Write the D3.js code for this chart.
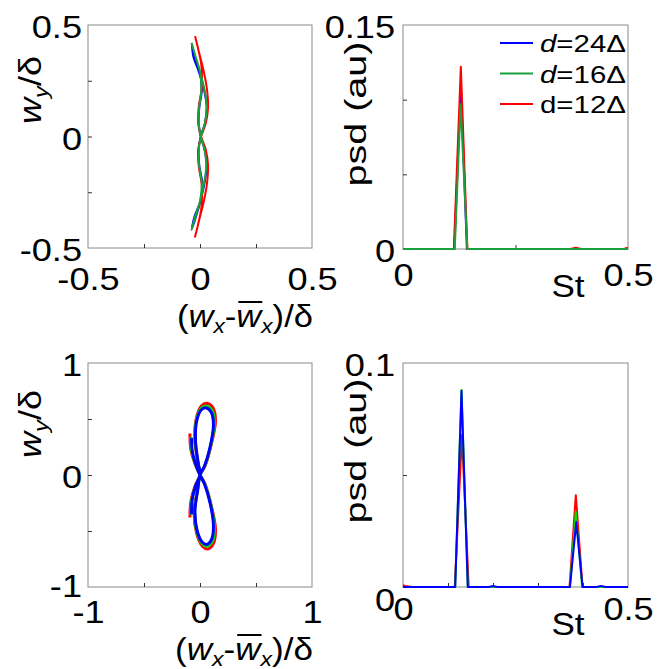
<!DOCTYPE html>
<html>
<head>
<meta charset="utf-8">
<script src="https://cdn.jsdelivr.net/npm/d3@7"></script>
<style>
  body { margin: 0; background: #fff; }
  svg { font-family: "Liberation Sans", Arial, sans-serif; }
</style>
</head>
<body>
<div id="chart"></div>
<script>
// figure: wake orbits (left) and spectra (right), three grid spacings

const width = 659;
const height = 669;

const seriesNames = ["24Δ", "16Δ", "12Δ"];

// top-left orbit, (wx - mean)/delta vs wy/delta
const tlBlueX = [-0.036, -0.03, -0.005, 0.018, 0.03, 0.022, 0.003, -0.006, -0.003, 0.01, 0.002, -0.025, -0.036, -0.018, 0.002, 0.02, 0.03, 0.021, 0.003, -0.006, -0.003, 0.008, -0.002, -0.028, -0.036];
const tlBlueY = [0.415, 0.36, 0.29, 0.21, 0.13, 0.06, 0.0, -0.06, -0.13, -0.21, -0.29, -0.36, -0.415, -0.36, -0.29, -0.21, -0.13, -0.06, 0.0, 0.06, 0.13, 0.21, 0.29, 0.36, 0.415];
const tlGreenX = [-0.038, -0.02, 0.0, 0.02, 0.03, 0.022, 0.004, -0.006, -0.004, 0.008, 0.0, -0.02, -0.038, -0.022, 0.0, 0.018, 0.028, 0.02, 0.004, -0.006, -0.004, 0.006, 0.0, -0.02, -0.038];
const tlGreenY = [0.42, 0.36, 0.29, 0.21, 0.13, 0.06, 0.0, -0.06, -0.13, -0.21, -0.29, -0.36, -0.42, -0.36, -0.29, -0.21, -0.13, -0.06, 0.0, 0.06, 0.13, 0.21, 0.29, 0.36, 0.42];
const tlRedX = [-0.022, -0.005, 0.015, 0.03, 0.036, 0.026, 0.005, -0.008, -0.006, 0.008, 0.006, -0.01, -0.022, -0.005, 0.015, 0.03, 0.036, 0.026, 0.005, -0.008, -0.006, 0.008, 0.006, -0.01, -0.022];
const tlRedY = [0.45, 0.38, 0.30, 0.22, 0.13, 0.06, 0.0, -0.06, -0.13, -0.22, -0.32, -0.40, -0.45, -0.38, -0.30, -0.22, -0.13, -0.06, 0.0, 0.06, 0.13, 0.22, 0.32, 0.40, 0.45];

// bottom-left orbit (figure eight)
const blBlueX = [-0.075, -0.07, -0.04, 0, 0.04, 0.09, 0.12, 0.105, 0.06, 0.02, -0.025, -0.045, -0.02, 0, 0.04, 0.09, 0.12, 0.1, 0.05, 0.01, -0.03, -0.04, -0.015, 0, -0.04, -0.07, -0.075];
const blBlueY = [0.33, 0.22, 0.1, 0, -0.08, -0.25, -0.45, -0.57, -0.62, -0.6, -0.5, -0.32, -0.13, 0, 0.08, 0.25, 0.45, 0.56, 0.6, 0.58, 0.48, 0.3, 0.1, 0, -0.1, -0.22, -0.35];
const blGreenX = [-0.08, -0.075, -0.042, 0, 0.042, 0.095, 0.128, 0.112, 0.064, 0.02, -0.028, -0.048, -0.021, 0, 0.042, 0.095, 0.128, 0.108, 0.055, 0.01, -0.032, -0.043, -0.016, 0, -0.042, -0.075, -0.08];
const blGreenY = [0.34, 0.22, 0.1, 0, -0.08, -0.26, -0.46, -0.59, -0.635, -0.615, -0.51, -0.33, -0.13, 0, 0.08, 0.26, 0.46, 0.575, 0.615, 0.595, 0.49, 0.31, 0.1, 0, -0.1, -0.23, -0.36];
const blRedX = [-0.09, -0.082, -0.045, 0, 0.045, 0.1, 0.138, 0.12, 0.07, 0.022, -0.03, -0.052, -0.022, 0, 0.045, 0.1, 0.138, 0.116, 0.06, 0.012, -0.034, -0.046, -0.017, 0, -0.045, -0.082, -0.09];
const blRedY = [0.37, 0.23, 0.1, 0, -0.08, -0.27, -0.48, -0.61, -0.66, -0.635, -0.52, -0.33, -0.13, 0, 0.08, 0.27, 0.48, 0.6, 0.64, 0.615, 0.5, 0.32, 0.1, 0, -0.1, -0.24, -0.38];

// top-right spectra
const trBlueSt = [0, 0.114, 0.1285, 0.142, 0.5];
const trBluePsd = [0, 0, 0.11, 0, 0];
const trGreenSt = [0, 0.115, 0.128, 0.143, 0.5];
const trGreenPsd = [0, 0, 0.097, 0, 0];
const trRedSt = [0, 0.113, 0.1285, 0.143, 0.372, 0.384, 0.396, 0.49, 0.5];
const trRedPsd = [0, 0, 0.122, 0, 0, 0.0008, 0, 0, 0.0008];

// bottom-right spectra
const brBlueSt = [0, 0.1, 0.116, 0.130, 0.144, 0.19, 0.2, 0.21, 0.358, 0.371, 0.385, 0.399, 0.43, 0.44, 0.45, 0.5];
const brBluePsd = [0, 0, 0, 0.0876, 0, 0, 0.0004, 0, 0, 0, 0.029, 0, 0, 0.0005, 0, 0];
const brGreenSt = [0, 0.116, 0.130, 0.144, 0.371, 0.384, 0.398, 0.5];
const brGreenPsd = [0, 0, 0.088, 0, 0, 0.0336, 0, 0];
const brRedSt = [0, 0.005, 0.02, 0.115, 0.131, 0.146, 0.37, 0.384, 0.399, 0.5];
const brRedPsd = [0.0008, 0.0005, 0, 0, 0.068, 0, 0, 0.041, 0, 0];

const blue = "#0000ff";
const green = "#1aa03c";
const green2 = "#00dd00";
const red = "#ff0000";
const font = "'Liberation Sans', Arial, sans-serif";
const stretch = 1.13; // the original lettering runs a bit wider than Arial

const svg = d3.select("#chart")
  .append("svg")
  .attr("width", width)
  .attr("height", height);

const zip = (a, b) => a.map((v, i) => [v, b[i]]);

function widen(sel) {
  sel.each(function () {
    const len = this.getComputedTextLength();
    d3.select(this).attr("textLength", len * stretch).attr("lengthAdjust", "spacingAndGlyphs");
  });
}

function panel(box, xDom, yDom) {
  const x = d3.scaleLinear().domain(xDom).range([box.left, box.right]);
  const y = d3.scaleLinear().domain(yDom).range([box.bottom, box.top]);
  return { box, x, y };
}

function frame(p, opt) {
  const b = p.box;
  svg.append("rect")
    .attr("x", b.left).attr("y", b.top)
    .attr("width", b.right - b.left).attr("height", b.bottom - b.top)
    .attr("fill", "none").attr("stroke", "#8a8a8a").attr("stroke-width", 1);

  // inner ticks
  svg.append("g")
    .attr("transform", `translate(0,${b.bottom})`)
    .call(d3.axisBottom(p.x).tickValues(opt.xMinor).tickSize(-4).tickFormat(""))
    .call(g => g.select(".domain").remove())
    .selectAll("line").attr("stroke", "#333");
  svg.append("g")
    .attr("transform", `translate(${b.left},0)`)
    .call(d3.axisLeft(p.y).tickValues(opt.yMinor).tickSize(-4).tickFormat(""))
    .call(g => g.select(".domain").remove())
    .selectAll("line").attr("stroke", "#333");

  // tick labels
  const fmt = d => String(d);
  const gx = svg.append("g")
    .attr("transform", `translate(0,${b.bottom})`)
    .call(d3.axisBottom(p.x).tickValues(opt.xLabels).tickSize(0).tickPadding(opt.xPad).tickFormat(fmt))
    .attr("font-size", 32).attr("font-family", font);
  gx.select(".domain").remove();
  widen(gx.selectAll("text"));
  const gy = svg.append("g")
    .attr("transform", `translate(${b.left},0)`)
    .call(d3.axisLeft(p.y).tickValues(opt.yLabels).tickSize(0).tickPadding(opt.yPad).tickFormat(fmt))
    .attr("font-size", 32).attr("font-family", font);
  gy.select(".domain").remove();
  gy.selectAll("text").attr("dy", "0.4em");
  widen(gy.selectAll("text"));
  return gy;
}

function trace(p, xs, ys, color, w, curve) {
  svg.append("path")
    .datum(zip(xs, ys))
    .attr("fill", "none")
    .attr("stroke", color)
    .attr("stroke-width", w)
    .attr("stroke-linejoin", "round")
    .attr("d", d3.line().x(d => p.x(d[0])).y(d => p.y(d[1])).curve(curve));
}

// ---------- orbit panels ----------
const tl = panel({ left: 88, right: 312, top: 25, bottom: 248 }, [-0.5, 0.5], [-0.5, 0.5]);
frame(tl, { xMinor: [-0.25, 0, 0.25], yMinor: [-0.25, 0, 0.25], xLabels: [-0.5, 0, 0.5], yLabels: [-0.5, 0, 0.5], xPad: 19, yPad: 6 });
trace(tl, tlBlueX, tlBlueY, blue, 2, d3.curveCatmullRom);
trace(tl, tlRedX, tlRedY, red, 2, d3.curveCatmullRom);
trace(tl, tlGreenX, tlGreenY, green, 2, d3.curveCatmullRom);

const bl = panel({ left: 88, right: 312, top: 363, bottom: 587 }, [-1, 1], [-1, 1]);
const blY = frame(bl, { xMinor: [-0.5, 0, 0.5], yMinor: [-0.5, 0, 0.5], xLabels: [-1, 0, 1], yLabels: [-1, 0, 1], xPad: 13, yPad: 6 });
blY.selectAll("text").filter(d => d === -1).attr("dy", "0.3em");
trace(bl, blRedX, blRedY, red, 3, d3.curveCatmullRom);
trace(bl, blGreenX, blGreenY, green2, 3, d3.curveCatmullRom);
trace(bl, blBlueX, blBlueY, blue, 3, d3.curveCatmullRom);

// ---------- spectra panels ----------
const tr = panel({ left: 403, right: 628, top: 25, bottom: 249 }, [0, 0.5], [0, 0.15]);
frame(tr, { xMinor: [0.25], yMinor: [0.05, 0.1], xLabels: [0, 0.5], yLabels: [0, 0.15], xPad: 14, yPad: 8 });
trace(tr, trBlueSt, trBluePsd, blue, 2, d3.curveLinear);
trace(tr, trRedSt, trRedPsd, red, 2, d3.curveLinear);
trace(tr, trGreenSt, trGreenPsd, green, 2, d3.curveLinear);

const br = panel({ left: 403, right: 628, top: 363, bottom: 587 }, [0, 0.5], [0, 0.1]);
const brY = frame(br, { xMinor: [0.1, 0.2, 0.3, 0.4], yMinor: [0.05], xLabels: [0, 0.5], yLabels: [0, 0.1], xPad: 10, yPad: 8 });
brY.selectAll("text").filter(d => d === 0).attr("dy", "0.72em");
trace(br, brRedSt, brRedPsd, red, 2, d3.curveLinear);
trace(br, brGreenSt, brGreenPsd, green2, 2, d3.curveLinear);
trace(br, brBlueSt, brBluePsd, blue, 2, d3.curveLinear);

// ---------- legend ----------
const legendColors = [blue, green, red];
const leg = svg.append("g").attr("font-family", font).attr("font-size", 24);
seriesNames.forEach((name, i) => {
  const ly = 43 + i * 30.5;
  leg.append("line")
    .attr("x1", 500).attr("x2", 533).attr("y1", ly).attr("y2", ly)
    .attr("stroke", legendColors[i]).attr("stroke-width", 2);
  const t = leg.append("text").attr("x", 540).attr("y", ly + 9)
    .attr("textLength", 86).attr("lengthAdjust", "spacingAndGlyphs");
  t.append("tspan").attr("font-style", i < 2 ? "italic" : "normal").text("d");
  t.append("tspan").text("=" + name);
});

// ---------- axis titles ----------
function xTitle(cx, by, len) {
  const t = svg.append("text")
    .attr("x", cx).attr("y", by)
    .attr("text-anchor", "middle")
    .attr("font-family", font).attr("font-size", 32)
    .attr("textLength", len).attr("lengthAdjust", "spacingAndGlyphs");
  t.append("tspan").text("(");
  t.append("tspan").attr("font-style", "italic").text("w");
  t.append("tspan").attr("font-style", "italic").attr("font-size", 21).attr("dy", 6).text("x");
  t.append("tspan").attr("dy", -6).text("-");
  t.append("tspan").attr("font-style", "italic").text("w");
  t.append("tspan").attr("font-style", "italic").attr("font-size", 21).attr("dy", 6).text("x");
  t.append("tspan").attr("dy", -6).text(")/δ");
  // bar over the second w
  const e = t.node().getExtentOfChar(4);
  svg.append("line")
    .attr("x1", e.x + 2).attr("x2", e.x + e.width + 1)
    .attr("y1", by - 25).attr("y2", by - 25)
    .attr("stroke", "#000").attr("stroke-width", 2);
}

function yOrbitTitle(cy) {
  const t = svg.append("text")
    .attr("transform", `translate(41,${cy}) rotate(-90)`)
    .attr("text-anchor", "middle")
    .attr("font-family", font).attr("font-size", 32);
  t.append("tspan").attr("font-style", "italic").text("w");
  t.append("tspan").attr("font-style", "italic").attr("font-size", 21).attr("dy", 7).text("y");
  t.append("tspan").attr("dy", -7).text("/δ");
  widen(t);
}

function yPsdTitle(cy) {
  svg.append("text")
    .attr("transform", `translate(366,${cy}) rotate(-90)`)
    .attr("text-anchor", "middle")
    .attr("font-family", font).attr("font-size", 30)
    .attr("textLength", 145).attr("lengthAdjust", "spacingAndGlyphs")
    .text("psd (au)");
}

function stTitle(by) {
  const t = svg.append("text")
    .attr("x", 568).attr("y", by)
    .attr("text-anchor", "middle")
    .attr("font-family", font).attr("font-size", 31)
    .text("St");
  widen(t);
}

xTitle(245, 327, 136);
xTitle(244, 660, 138);
yOrbitTitle(90);
yOrbitTitle(424);
yPsdTitle(114);
yPsdTitle(451);
stTitle(297);
stTitle(635);
</script>
</body>
</html>
